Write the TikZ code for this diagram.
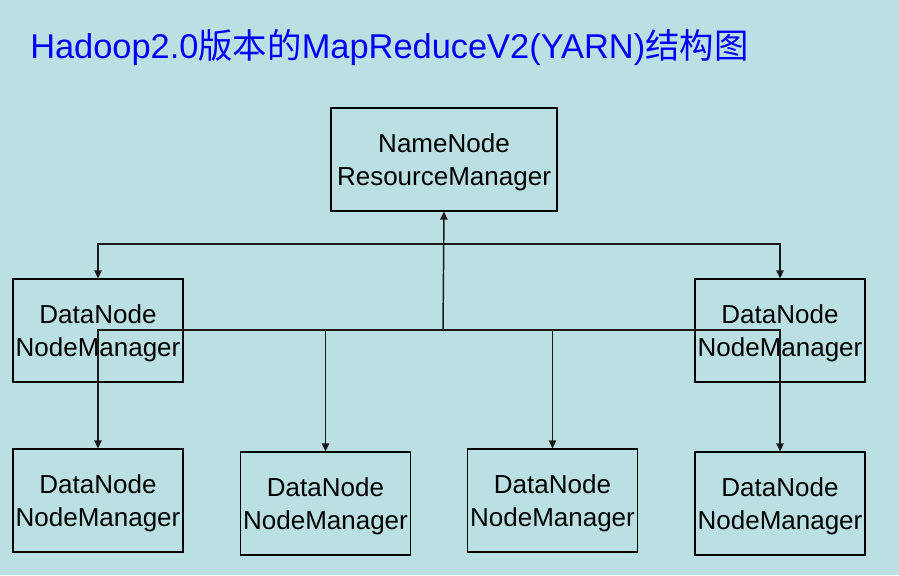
\documentclass[tikz,border=0pt]{standalone}
\usepackage{fontspec}
\setmainfont{Liberation Sans}
\newfontfamily\cjk{Noto Sans CJK SC}
\usetikzlibrary{arrows.meta}
\definecolor{slidebg}{RGB}{187,224,227}
\definecolor{titleblue}{RGB}{0,0,255}

\begin{document}
\begin{tikzpicture}[x=0.75pt,y=-0.75pt]
\fill[slidebg] (0,0) rectangle (899,575);
\useasboundingbox (0,0) rectangle (899,575);
\node[anchor=base west,text=titleblue,inner sep=0pt,font=\fontsize{25.8}{30}\selectfont] (title) at (30,58)
    {Hadoop2.0{\cjk 版本的}MapReduceV2(YARN){\cjk 结构图}};
\begin{scope}[every node/.style={draw,line width=0.9pt,align=center,minimum height=77.25pt,
              minimum width=127.5pt,inner sep=0pt,text depth=0pt,font=\fontsize{19.5}{24.5}\selectfont}]
    \node[minimum width=169.5pt] (rm) at (444,159.5) {NameNode\\ResourceManager};
    \node (dnl) at (98,330.5) {DataNode\\NodeManager};
    \node (dnr) at (780,330.5) {DataNode\\NodeManager};
    \node (dna) at (98,500.5) {DataNode\\NodeManager};
    \node (dnb) at (325.5,503.5) {DataNode\\NodeManager};
    \node (dnc) at (552.5,500.5) {DataNode\\NodeManager};
    \node (dnd) at (780,503.5) {DataNode\\NodeManager};
\end{scope}
\coordinate (split) at (443,244);
\coordinate (hub) at (443,330);
\begin{scope}[>={Triangle[length=6pt,width=5.5pt]},
              every path/.style={line width=1.1pt,draw=black!90}]
    \draw [->] (hub) -- (rm.south);
    \draw [->] (split) -| (dnl.north);
    \draw [->] (split) -| (dnr.north);
    \draw [->] (hub) -| (dna.north);
    \draw [->] (hub) -| (dnb.north);
    \draw [->] (hub) -| (dnc.north);
    \draw [->] (hub) -| (dnd.north);
\end{scope}
\end{tikzpicture}
\end{document}
